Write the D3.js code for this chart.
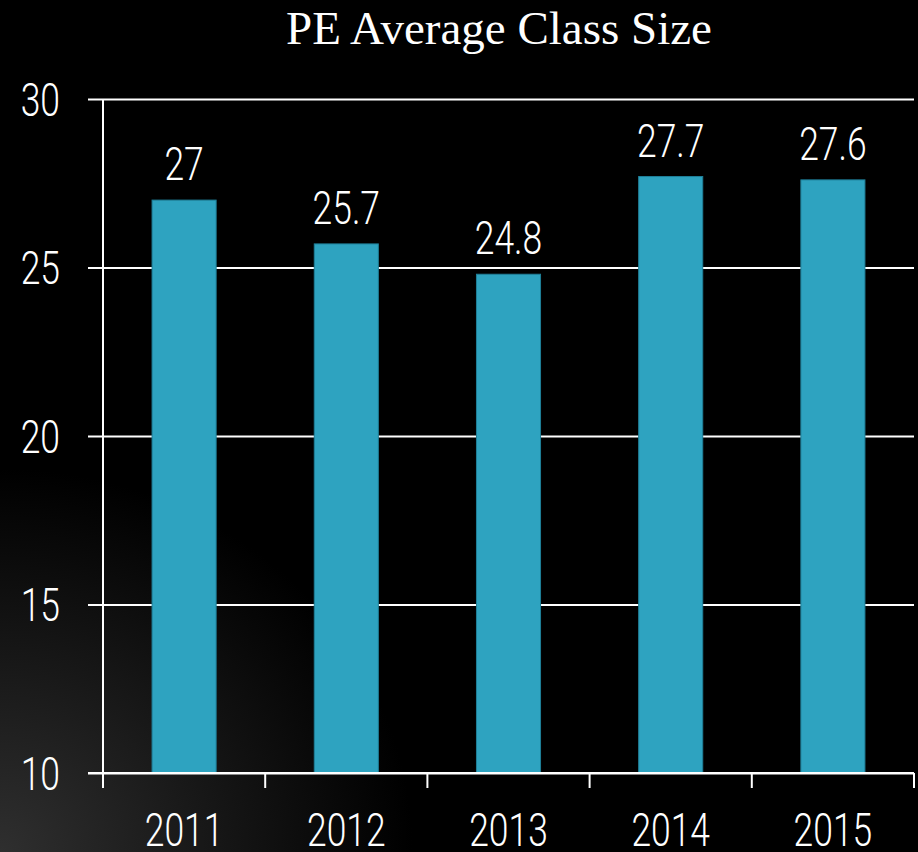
<!DOCTYPE html>
<html>
<head>
<meta charset="utf-8">
<script src="https://cdn.jsdelivr.net/npm/d3@7"></script>
<style>
  html, body { margin: 0; padding: 0; background: #000; }
  svg { display: block; }
  .num { font-family: Roboto, "Liberation Sans", sans-serif; font-weight: 300; fill: #fff; font-size: 46px; }
</style>
</head>
<body>
<div id="chart"></div>
<script>
// Dados
var years  = ["2011", "2012", "2013", "2014", "2015"];
var sizes  = [27, 25.7, 24.8, 27.7, 27.6];
var labels = ["27", "25.7", "24.8", "27.7", "27.6"];
var yTicks = [10, 15, 20, 25, 30];

var W = 918, H = 852;
var margin = { top: 99, left: 103, right: 4, bottom: 79 },
    width = W - margin.left - margin.right,
    height = H - margin.top - margin.bottom;

var squeeze = 0.77; // fonte condensada

// Aplica compressão horizontal mantendo a posição
function condense(sel) {
  sel.each(function() {
    var t = d3.select(this);
    var x = +t.attr("x") || 0, y = +t.attr("y") || 0;
    t.attr("x", 0).attr("y", 0)
      .attr("transform", "translate(" + x + "," + y + ") scale(" + squeeze + ",1)");
  });
}

var root = d3.select("#chart").append("svg")
  .attr("width", W)
  .attr("height", H);

// Fundo com leve degradê
var defs = root.append("defs");
var grad = defs.append("radialGradient")
  .attr("id", "bg")
  .attr("cx", "0%").attr("cy", "100%").attr("r", "45%");
grad.append("stop").attr("offset", "0%").attr("stop-color", "#2f2f2f");
grad.append("stop").attr("offset", "100%").attr("stop-color", "#000");

var gradTop = defs.append("linearGradient")
  .attr("id", "bgTop").attr("x1", 0).attr("y1", 0).attr("x2", 0).attr("y2", 1);
gradTop.append("stop").attr("offset", "0%").attr("stop-color", "#121212");
gradTop.append("stop").attr("offset", "100%").attr("stop-color", "#000");

root.append("rect").attr("width", W).attr("height", H).attr("fill", "#000");
root.append("rect").attr("width", W).attr("height", 70).attr("fill", "url(#bgTop)");
root.append("rect").attr("width", W).attr("height", H).attr("fill", "url(#bg)");

root.append("text")
  .text("PE Average Class Size")
  .attr("x", 499)
  .attr("y", 44)
  .attr("text-anchor", "middle")
  .attr("fill", "#fff")
  .style("font-family", "'Liberation Serif', 'Times New Roman', serif")
  .style("font-size", "47px");

var svg = root.append("g")
  .attr("transform", "translate(" + margin.left + "," + margin.top + ")");

// Escalas
var xScale = d3.scaleBand()
  .domain(years)
  .range([0, width])
  .paddingInner(0.605)
  .paddingOuter(0.3025);

var yScale = d3.scaleLinear()
  .domain([10, 30])
  .range([height, 0]);

// Grade e eixo y
var yAxis = d3.axisLeft(yScale)
  .tickValues(yTicks)
  .tickSizeInner(-width)
  .tickSizeOuter(0)
  .tickPadding(0)
  .tickFormat(d3.format("d"));

var gy = svg.append("g")
  .attr("class", "axis y-axis")
  .call(yAxis);
gy.select(".domain").remove();
gy.selectAll(".tick line")
  .attr("x1", -15)
  .attr("x2", width)
  .attr("stroke", "#fff")
  .attr("stroke-width", 2);
gy.selectAll(".tick text")
  .attr("class", "num")
  .attr("x", -43)
  .attr("y", 16)
  .attr("dy", null)
  .attr("text-anchor", "end")
  .attr("fill", "#fff")
  .call(condense);
gy.attr("font-family", null).attr("font-size", null);

svg.append("line")
  .attr("x1", 0).attr("x2", 0)
  .attr("y1", 0).attr("y2", height)
  .attr("stroke", "#fff")
  .attr("stroke-width", 2);

// Barras
svg.selectAll(".bar")
  .data(sizes)
  .enter().append("rect")
  .attr("class", "bar")
  .attr("x", function(d, i) { return xScale(years[i]); })
  .attr("y", function(d) { return yScale(d); })
  .attr("width", xScale.bandwidth())
  .attr("height", function(d) { return height - yScale(d); })
  .attr("fill", "#2ea3c0")
  .attr("stroke", "#1f7f98")
  .attr("stroke-width", 1);

// Rótulos
svg.selectAll(".bar-label")
  .data(sizes)
  .enter().append("text")
  .attr("class", "num bar-label")
  .attr("x", function(d, i) { return xScale(years[i]) + xScale.bandwidth() / 2; })
  .attr("y", function(d) { return yScale(d) - 20; })
  .attr("text-anchor", "middle")
  .text(function(d, i) { return labels[i]; })
  .call(condense);

// Eixo x
var xAxis = d3.axisBottom(xScale)
  .tickSize(0)
  .tickPadding(0);

var gx = svg.append("g")
  .attr("class", "axis x-axis")
  .attr("transform", "translate(0," + height + ")")
  .call(xAxis);
gx.select(".domain").remove();
gx.attr("font-family", null).attr("font-size", null);
gx.selectAll(".tick text")
  .attr("class", "num")
  .attr("y", 73)
  .attr("dy", null)
  .attr("fill", "#fff")
  .call(condense);

svg.append("line")
  .attr("x1", -15).attr("x2", width)
  .attr("y1", height).attr("y2", height)
  .attr("stroke", "#fff")
  .attr("stroke-width", 2);

// Marcas entre categorias
var bounds = years.map(function(d) { return xScale(d) - xScale.step() * xScale.paddingOuter(); })
  .concat([width]);
svg.selectAll(".x-sep")
  .data(bounds)
  .enter().append("line")
  .attr("class", "x-sep")
  .attr("x1", function(d) { return d; })
  .attr("x2", function(d) { return d; })
  .attr("y1", height)
  .attr("y2", height + 15)
  .attr("stroke", "#fff")
  .attr("stroke-width", 2);
</script>
</body>
</html>
